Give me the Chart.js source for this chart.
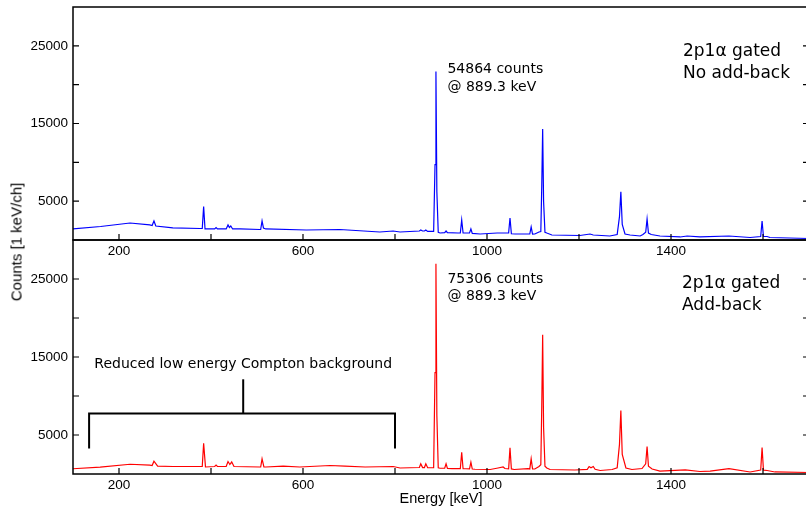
<!DOCTYPE html>
<html><head><meta charset="utf-8">
<script src="https://cdn.jsdelivr.net/npm/chart.js@4.4.1/dist/chart.umd.min.js"></script>
<style>
html,body{margin:0;padding:0;background:#fff;overflow:hidden;width:806px;height:508px;}
#wrap{position:relative;width:806px;height:508px;overflow:hidden;}
canvas{position:absolute;left:0;top:0;}
#ylab{position:absolute;left:16px;top:242px;transform:translate(-50%,-50%) rotate(-90deg);font:15px "Liberation Sans",Arial,sans-serif;white-space:nowrap;color:#000;}
</style></head><body>
<div id="wrap">
<canvas id="topChart" width="820" height="508"></canvas>
<canvas id="botChart" width="820" height="508"></canvas>
<div id="ylab">Counts [1 keV/ch]</div>
</div>
<script>
// ---- Data ----
const energyTop = [100,160,224,267,272,276,280,317,376,381,384,387,408,411,414,433,437,440,443,447,463,506,508,511,514,519,607,680,767,796,811,853,856,860,864,867,871,884,887,889,891,894,898,908,911,914,937,942,945,948,954,962,965,968,985,1022,1039,1047,1050,1053,1061,1089,1093,1096,1099,1104,1113,1117,1119,1121,1123,1126,1130,1141,1202,1224,1231,1267,1283,1288,1291,1294,1300,1311,1333,1339,1345,1348,1351,1357,1376,1420,1435,1463,1526,1572,1595,1598,1601,1609,1615,1700];
const countsTop = [1420,1740,2190,1940,1870,2450,1800,1550,1480,1480,4320,1420,1420,1600,1420,1420,1940,1610,1800,1420,1420,1350,1350,2450,1550,1420,1290,1350,1030,1160,1030,1160,1290,1160,1160,1290,1100,1100,9700,21700,6200,1000,900,950,1160,950,900,900,2580,900,900,900,1420,850,770,900,900,900,2840,800,770,770,770,1680,750,770,1030,1100,6800,14300,5000,1000,900,645,580,770,645,516,710,3000,6200,2000,770,645,516,710,1000,2700,900,710,516,390,516,390,516,320,450,2450,450,450,320,190];

const energyBottom = [100,159,224,267,272,276,284,317,376,381,384,388,408,411,414,433,437,441,445,450,506,508,511,515,519,557,593,659,691,735,796,811,853,856,860,864,867,871,884,887,889,891,894,898,908,911,914,924,937,942,945,948,954,962,965,968,974,1007,1024,1035,1039,1047,1050,1053,1059,1089,1093,1096,1099,1104,1113,1117,1119,1121,1123,1126,1130,1137,1191,1218,1222,1226,1231,1235,1246,1272,1283,1288,1291,1294,1302,1315,1337,1345,1348,1351,1359,1376,1431,1463,1485,1526,1572,1595,1598,1601,1609,1626,1700];
const countsBottom = [670,870,1250,1130,1090,1640,1020,960,960,960,3940,900,960,1130,960,960,1600,1220,1540,960,900,900,1950,900,900,1000,900,1090,1020,900,960,770,830,1300,830,830,1300,800,800,13000,26950,7500,800,740,750,1300,720,700,700,680,2790,680,670,660,1510,640,610,580,770,900,700,650,3350,650,580,700,650,1950,650,640,960,1200,8500,17860,6000,1000,770,580,510,600,960,800,960,600,450,580,800,3800,8130,2500,770,580,700,1300,3520,1000,640,380,540,320,380,700,260,500,3390,500,450,260,190];

const xTickValues = [200,400,600,800,1000,1200,1400,1600];
const xTickLabels = [200,600,1000,1400];
const yTickValues = [5000,10000,15000,20000,25000];
const yTickLabels = [5000,15000,25000];

// ---- Annotations (data coordinates) ----
const topTexts = [
  {text:'54864 counts', x:914, y:21460, font:'14px "DejaVu Sans"'},
  {text:'@ 889.3 keV', x:914, y:19220, font:'14px "DejaVu Sans"'},
  {text:'2p1\u03b1 gated', x:1426, y:23690, font:'17px "DejaVu Sans"'},
  {text:'No add-back', x:1426, y:20820, font:'17px "DejaVu Sans"'}
];
const bottomTexts = [
  {text:'75306 counts', x:914, y:24440, font:'14px "DejaVu Sans"'},
  {text:'@ 889.3 keV', x:914, y:22290, font:'14px "DejaVu Sans"'},
  {text:'2p1\u03b1 gated', x:1424, y:23840, font:'17px "DejaVu Sans"'},
  {text:'Add-back', x:1424, y:21010, font:'17px "DejaVu Sans"'},
  {text:'Reduced low energy Compton background', x:470, y:13600, font:'14px "DejaVu Sans"', align:'center'}
];
const bracketLines = [
  [[135,3280],[135,7770],[800,7770],[800,3280]],
  [[470,7770],[470,12140]]
];

const tickFont = {family:'"Liberation Sans", Arial, sans-serif', size:13.5};

const framePlugin = {
  id:'frame',
  afterDraw(chart, args, opts){
    const {ctx, chartArea:a} = chart;
    const x = chart.scales.x, y = chart.scales.y;
    ctx.save();
    ctx.strokeStyle = '#000';
    ctx.lineWidth = 1.5;
    ctx.strokeRect(a.left, a.top, a.right - a.left, a.bottom - a.top);
    ctx.lineWidth = 1.2;
    ctx.beginPath();
    xTickValues.forEach(v => { const p = x.getPixelForValue(v); ctx.moveTo(p, a.bottom); ctx.lineTo(p, a.bottom - 6); });
    yTickValues.forEach(v => { const p = y.getPixelForValue(v);
      ctx.moveTo(a.left, p); ctx.lineTo(a.left + 6, p);
      ctx.moveTo(a.right, p); ctx.lineTo(a.right - 6, p); });
    ctx.stroke();
    (opts.lines || []).forEach(pl => {
      ctx.lineWidth = 2;
      ctx.beginPath();
      pl.forEach((pt, i) => { const px = x.getPixelForValue(pt[0]), py = y.getPixelForValue(pt[1]);
        if (i === 0) ctx.moveTo(px, py); else ctx.lineTo(px, py); });
      ctx.stroke();
    });
    ctx.fillStyle = '#000';
    ctx.textBaseline = 'alphabetic';
    (opts.texts || []).forEach(t => {
      ctx.font = t.font;
      ctx.textAlign = t.align || 'left';
      ctx.fillText(t.text, x.getPixelForValue(t.x), y.getPixelForValue(t.y));
    });
    ctx.restore();
  }
};

function makeChart(id, energies, counts, color, padding, xHeight, showTitle, texts, lines){
  const pts = energies.map((e, i) => ({x:e, y:counts[i]}));
  return new Chart(document.getElementById(id), {
    type:'scatter',
    data:{datasets:[{data:pts, showLine:true, borderColor:color, borderWidth:1.2, pointRadius:0, tension:0, fill:false}]},
    options:{
      responsive:false, animation:false, devicePixelRatio:1,
      layout:{padding:padding},
      plugins:{legend:{display:false}, tooltip:{enabled:false}, frame:{texts:texts, lines:lines}},
      scales:{
        x:{type:'linear', min:100, max:1700,
          afterFit(s){ s.height = xHeight; s.paddingLeft = 0; s.paddingRight = 0; },
          afterBuildTicks(s){ s.ticks = xTickValues.map(v => ({value:v})); },
          grid:{display:false, drawTicks:false}, border:{display:false},
          ticks:{autoSkip:false, maxRotation:0, padding:3, color:'#000', font:tickFont,
            callback:(v) => xTickLabels.includes(v) ? String(v) : ''},
          title:{display:showTitle, text:'Energy [keV]', color:'#000', padding:{top:0,bottom:0},
            font:{family:'"Liberation Sans", Arial, sans-serif', size:14.5}}
        },
        y:{type:'linear', min:0, max:30000,
          afterFit(s){ s.width = 73; s.paddingTop = 0; s.paddingBottom = 0; },
          afterBuildTicks(s){ s.ticks = yTickValues.map(v => ({value:v})); },
          grid:{display:false, drawTicks:false}, border:{display:false},
          ticks:{autoSkip:false, padding:5, color:'#000', font:tickFont,
            callback:(v) => yTickLabels.includes(v) ? String(v) : ''}
        }
      }
    },
    plugins:[framePlugin]
  });
}

makeChart('topChart', energyTop, countsTop, '#0000ff', {left:0, top:7, right:11, bottom:248}, 20, false, topTexts, []);
makeChart('botChart', energyBottom, countsBottom, '#ff0000', {left:0, top:240, right:11, bottom:0}, 34, true, bottomTexts, bracketLines);
</script>
</body></html>
